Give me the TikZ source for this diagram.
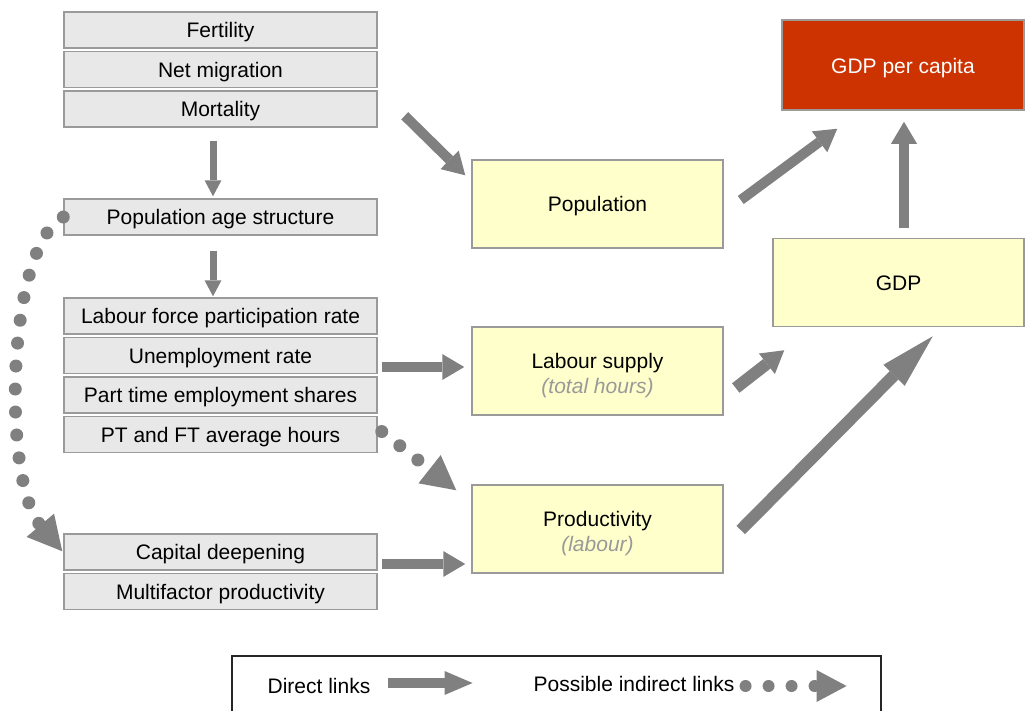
\documentclass[tikz,border=0pt]{standalone}
\usepackage{fontspec}
\setmainfont{Liberation Sans}
\usepackage{xcolor}
\definecolor{boxgray}{HTML}{E8E8E8}
\definecolor{edgegray}{HTML}{9A9A9A}
\definecolor{paleyellow}{HTML}{FFFFCC}
\definecolor{gdpred}{HTML}{CC3300}
\definecolor{arrgray}{HTML}{808080}
\definecolor{notegray}{HTML}{999999}
\newcommand{\notetext}[1]{{\itshape\color{notegray}#1}}
\newcommand{\padtop}{\rule{0pt}{24pt}}
\usetikzlibrary{arrows.meta, positioning}
\tikzset{
  drvbox/.style ={rectangle, draw=edgegray, line width=1.5pt, fill=boxgray, text=black, align=center,
                  inner sep=2pt, minimum width=313pt, minimum height=36pt, text height=20pt, text depth=4.5pt,
                  font=\fontsize{21}{25}\selectfont},
  outbox/.style ={rectangle, draw=edgegray, line width=1.5pt, fill=paleyellow, text=black, align=center,
                  inner sep=2pt, minimum width=251pt, minimum height=88pt, text height=20pt, text depth=4.5pt,
                  font=\fontsize{21}{25}\selectfont},
  twoline/.style={text height={}, text depth={}},
  topbox/.style ={rectangle, draw=edgegray, line width=1.5pt, fill=gdpred, text=white, align=center,
                  inner sep=2pt, minimum width=242pt, minimum height=90pt, text height=21pt, text depth=4.5pt,
                  font=\fontsize{21}{25}\selectfont},
  legbox/.style ={rectangle, draw=black!85, line width=1.3pt, fill=white, minimum width=649pt, minimum height=58pt},
  leglbl/.style ={font=\fontsize{21}{25}\selectfont, inner sep=0pt},
  bigarr/.style ={color=arrgray, line width=10pt, -{Triangle[length=22pt, width=26pt, line width=0pt]}},
  thinarr/.style={color=arrgray, line width=7pt, -{Triangle[length=16pt, width=17pt, line width=0pt]}},
  longarr/.style={color=arrgray, line width=12pt, -{Triangle[length=55pt, width=30pt, line width=0pt]}},
  dotarr/.style ={color=arrgray, line width=13pt, line cap=round, dash pattern=on 0pt off 23pt,
                  -{Triangle[length=34pt, width=36pt, line width=0pt]}},
}

\begin{document}
\begin{tikzpicture}[x=1pt, y=-1pt, node distance=2pt]
  \useasboundingbox (0,0) rectangle (1026,710);

  \node[drvbox] (fert) at (220.5,30) {Fertility};
  \node[drvbox, below=of fert] (netm) {Net migration};
  \node[drvbox, below=of netm] (mort) {Mortality};
  \node[drvbox] (pas) at (220.5,217) {Population age structure};
  \node[drvbox] (lfp) at (220.5,316) {Labour force participation rate};
  \node[drvbox, below=of lfp] (unemp) {Unemployment rate};
  \node[drvbox, below=of unemp] (ptes) {Part time employment shares};
  \node[drvbox, below=of ptes] (pths) {PT and FT average hours};
  \node[drvbox] (capd) at (220.5,552) {Capital deepening};
  \node[drvbox, below=of capd] (mfp) {Multifactor productivity};

  \node[outbox] (pop) at (597.5,204) {Population};
  \node[outbox, twoline] (lab) at (597.5,371) {\padtop Labour supply\\ \notetext{(total hours)}};
  \node[outbox, twoline] (prod) at (597.5,529) {\padtop Productivity\\ \notetext{(labour)}};
  \node[outbox] (gdp) at (898.5,282.5) {GDP};
  \node[topbox] (gdppc) at (903,65) {GDP per capita};

  \draw[thinarr] ([xshift=-7.5pt, yshift=-13pt]mort.south) -- ([xshift=-7.5pt, yshift=2pt]pas.north);
  \draw[thinarr] ([xshift=-7.5pt, yshift=-15pt]pas.south) -- ([xshift=-7.5pt, yshift=1pt]lfp.north);
  \draw[bigarr] ([xshift=27pt, yshift=12pt]mort.south east) -- ([xshift=-6pt, yshift=-16pt]pop.north west);
  \draw[bigarr] ([xshift=4pt, yshift=-11.5pt]unemp.east) -- ([xshift=-7pt, yshift=4pt]lab.west);
  \draw[bigarr] ([xshift=4pt, yshift=-12pt]capd.east) -- ([xshift=-6pt, yshift=-35pt]prod.west);
  \draw[bigarr] ([xshift=17pt, yshift=4pt]pop.east) -- ([xshift=56pt, yshift=-18pt]gdppc.south west);
  \draw[bigarr] ([xshift=5.5pt, yshift=10pt]gdp.north) -- ([xshift=1pt, yshift=-11pt]gdppc.south);
  \draw[bigarr, line width=12pt] ([xshift=12pt, yshift=-17pt]lab.east) -- ([xshift=12pt, yshift=-23pt]gdp.south west);
  \draw[longarr] ([xshift=17pt, yshift=-1pt]prod.east) -- ([xshift=-92pt, yshift=-9pt]gdp.south east);

  \draw[dotarr] ([xshift=4pt, yshift=3pt]pths.east) -- ([xshift=-15pt, yshift=-6pt]prod.north west);
  \draw[dotarr] (pas.west) .. controls (6,248) and (2,480) .. ([xshift=-1pt, yshift=-18pt]capd.north west);

  \node[legbox] (leg) at (556.5,685) {};
  \node[leglbl] (dlbl) at (319,686) {Direct links};
  \node[leglbl] (ilbl) at (634,684) {Possible indirect links};
  \draw[bigarr, -{Triangle[length=28pt, width=24pt, line width=0pt]}] ([xshift=17pt, yshift=3pt]dlbl.east) -- ++(85,0);
  \draw[dotarr, line width=12pt, -{Triangle[length=30pt, width=32pt, line width=0pt]}] ([xshift=11pt, yshift=-2pt]ilbl.east) -- ++(101,0);
\end{tikzpicture}
\end{document}
